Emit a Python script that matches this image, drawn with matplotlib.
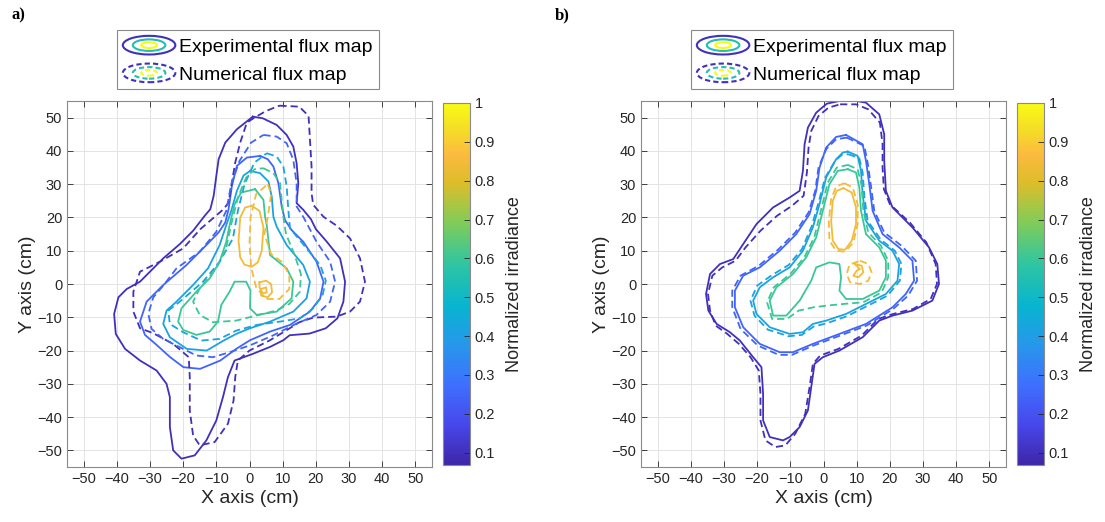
import numpy as np
import matplotlib.pyplot as plt
from matplotlib.colors import LinearSegmentedColormap, Normalize
from matplotlib.patches import Ellipse
from matplotlib.legend_handler import HandlerBase
from matplotlib.lines import Line2D
import matplotlib.cm as cm

plt.rcParams['font.family'] = ['Liberation Sans', 'DejaVu Sans']

# contour levels (normalized irradiance) drawn in each panel
levels = [0.1, 0.25, 0.42, 0.6, 0.85]
cbar_ticks = [0.1, 0.2, 0.3, 0.4, 0.5, 0.6, 0.7, 0.8, 0.9, 1.0]
cbar_labels = ['0.1', '0.2', '0.3', '0.4', '0.5', '0.6', '0.7', '0.8', '0.9', '1']
axis_ticks = [-50, -40, -30, -20, -10, 0, 10, 20, 30, 40, 50]

# ---- panel a) experimental (solid) contours, (x, y) in cm ----
a_exp_010 = [(1, 50.3), (4, 49.8), (8.2, 47.8), (11.2, 44.8), (13.2, 41.3), (14.2, 36.3), (14.7, 30.3),
             (14.2, 24.3), (16.2, 22.3), (18.5, 19.5), (20, 16.5), (23.3, 12.7), (27.3, 7.7), (28.8, 0.7),
             (28.3, -5.3), (26.5, -10.3), (23, -13.3), (18.1, -14.9), (12.1, -15.4), (10.2, -16.9),
             (6.2, -18.9), (1, -21), (-4.5, -23), (-6.5, -28), (-8, -34), (-10, -41), (-13, -47),
             (-16.5, -51.5), (-20.5, -52.5), (-23, -50), (-24, -43), (-24, -34), (-25, -30), (-28, -26),
             (-33, -23), (-37.5, -19.5), (-40.3, -15), (-40.8, -9), (-39.5, -4), (-37, -1.5), (-33, 0.7),
             (-26, 7.7), (-21, 12), (-17, 16), (-13.5, 20.5), (-11.8, 22.5), (-10.8, 26.5), (-10, 32.5),
             (-9.3, 37.5), (-7.3, 42.5), (-3.8, 46.5), (1, 50.3)]
a_exp_025 = [(3.2, 38.5), (5.5, 37.5), (7.2, 35.3), (8.7, 30.3), (9.7, 23.3), (10.7, 19.2), (12.7, 16.2),
             (16.2, 12.7), (20.2, 6.7), (22.3, 0.7), (21.3, -4.3), (18.2, -8.3), (12.2, -12.3), (6.2, -14.3),
             (0.15, -16.9), (-4, -19.5), (-8.8, -23), (-14.9, -25.5), (-19.9, -25), (-23.9, -22),
             (-28, -18.3), (-31.5, -15.3), (-33, -11.3), (-31, -5.3), (-26, -0.3), (-19, 5.7), (-13, 11.7),
             (-9.3, 15.5), (-7.3, 18.5), (-6.3, 22.5), (-5.3, 29.5), (-3.8, 35.5), (-0.8, 38), (3.2, 38.5)]
a_exp_042 = [(0.2, 34), (3.2, 33.3), (5.7, 30.8), (6.7, 26.3), (7.2, 20.2), (8.2, 17.2), (11.2, 11.7),
             (16.2, 5.7), (18.2, 0.7), (17.2, -4.3), (13.2, -8.3), (6.2, -11.3), (0.15, -13.3), (-4, -15),
             (-7.8, -17), (-12.9, -20), (-18.9, -19.5), (-24, -16), (-26, -12), (-25, -8), (-22, -5.3),
             (-17, -0.3), (-12.5, 4.7), (-9, 11.7), (-7, 17.7), (-5.5, 22), (-3.8, 28), (-1.8, 32.6), (0.2, 34)]
a_exp_060 = [(1.7, 28.5), (4.2, 25.3), (4.7, 20.2), (5.2, 17.7), (6.2, 8.7), (11.2, 4.7), (13.2, 0.7),
             (12.7, -4.3), (8.2, -8.3), (2.2, -9.3), (0.15, -7.3), (0.3, -2), (-1, 0.7), (-4.5, 0.7),
             (-6, -2.3), (-8.5, -6.3), (-9.5, -11.3), (-12, -14.3), (-16, -15.3), (-20, -13.8),
             (-21.5, -11.3), (-20.5, -7.3), (-16, -2.3), (-12, 1.7), (-9, 6.7), (-7, 12.7), (-6, 17.7),
             (-4.5, 24), (-2.5, 27.5), (1.7, 28.5)]
a_exp_085 = [(0.7, 23.5), (3, 22), (4.2, 17), (3.7, 10), (2.5, 6.5), (0.7, 5.2), (-1.5, 5.8), (-2.8, 8),
             (-3.3, 13), (-2.8, 20), (-1.3, 23), (0.7, 23.5)]
a_exp_085b = [(3, 0.5), (5, 1), (6.5, 0), (6.8, -2.5), (5.5, -4), (3.5, -3.5), (3.5, -1.5), (5, -1),
              (5.2, -2.5), (4, -2.8), (3, -1), (3, 0.5)]

# ---- panel a) numerical (dashed) contours ----
a_num_010 = [(9, 53.6), (15, 53.3), (17.8, 50.5), (18.3, 42), (18.7, 35.3), (18.7, 27.3), (19.2, 23.8),
             (22.3, 20.2), (26.3, 17.5), (30.3, 13.7), (33.3, 7.7), (34.8, 0.7), (33.3, -5.3), (30.3, -8.3),
             (26.3, -9.8), (19.2, -10.1), (15, -11.5), (11, -14), (6, -17), (0, -20), (-3.5, -23),
             (-4.3, -28), (-4.8, -35), (-6.5, -42), (-10.5, -47.5), (-15, -48.5), (-17, -45.5), (-18, -38),
             (-18, -28), (-18.3, -22), (-23, -18), (-29, -14.8), (-33, -13.3), (-35, -8.3), (-35, -2.3),
             (-33, 3.7), (-27, 6.7), (-20, 10.7), (-14.8, 16.5), (-11.3, 19.5), (-7.8, 22.5), (-6.3, 24.5),
             (-5.3, 30.5), (-4.3, 36.5), (-2.8, 42.5), (-0.8, 48.5), (1.5, 50), (5, 52), (9, 53.6)]
a_num_025 = [(4.2, 44.8), (8.2, 44.3), (11.2, 42.3), (13.2, 37.3), (14.2, 30.3), (14.2, 23.3), (16.2, 20.2),
             (20.2, 12.7), (24.3, 6.7), (25.8, 0.7), (24.3, -5.3), (20.2, -9.3), (14, -12), (7, -15.5),
             (0, -18.5), (-6, -20.5), (-11, -22), (-16, -21.5), (-21, -19), (-26, -16.5), (-29.5, -13.5),
             (-30.5, -9), (-29, -4), (-26, -0.5), (-22, 4.7), (-15, 9.7), (-10, 15.7), (-7, 22), (-5.5, 30),
             (-3, 37), (0.5, 42.5), (4.2, 44.8)]
a_num_042 = [(5.2, 39.3), (8.2, 38.3), (10.2, 35.3), (11.2, 29.3), (11.7, 22.3), (12.2, 16.7), (17.2, 10.7),
             (21.3, 5.7), (23, 1), (22, -3.5), (19, -7.5), (15.2, -10.3), (9.2, -11.3), (2.2, -12.3),
             (-4, -14), (-9, -16.5), (-14.5, -17), (-20, -14.5), (-24, -12), (-24.5, -8), (-21, -5.3),
             (-14, 0.7), (-9, 6.7), (-5, 13.7), (-3.5, 22), (-1.5, 30), (1.5, 36.5), (5.2, 39.3)]
a_num_060 = [(4.2, 34.8), (7.2, 33.3), (9.2, 30.3), (9.7, 25.3), (10.2, 20.2), (11, 15), (13.5, 9),
             (15.5, 3), (15.2, -2.3), (12, -6), (8, -8), (2, -9.5), (-4, -11), (-11, -11.5), (-15, -9.3),
             (-17, -5.3), (-15, -1.3), (-10, 4.7), (-7, 11), (-5.5, 18), (-3.5, 26), (-1, 32), (1.5, 34.5),
             (4.2, 34.8)]
a_num_085 = [(5.5, 30), (6.5, 27), (5.5, 20), (4.5, 15), (6.5, 9), (10, 6.5), (12, 2.5), (12, -1.5),
             (9, -4.5), (5, -4.5), (2, -1), (0.5, 5), (0, 12), (0.3, 20), (2, 27), (5.5, 30)]

# ---- panel b) experimental (solid) contours ----
b_exp_010 = [(4.8, 55), (8.8, 55.2), (12.8, 54.5), (16.8, 51), (18.3, 45), (18.3, 37), (18.8, 28),
             (20.8, 23), (26.8, 17), (31.8, 11), (34.3, 6), (34.8, 0), (32.8, -5), (26.8, -8),
             (20.8, -9.5), (16.8, -11), (11.8, -16), (4.8, -20), (-0.2, -22), (-2.7, -24), (-3.7, -31),
             (-4.7, -38), (-7.2, -43), (-10.2, -46), (-12.2, -47), (-16.2, -46), (-18.2, -41), (-18.2, -33),
             (-18.7, -25), (-21.2, -22), (-25.2, -17), (-28.2, -14.5), (-32.2, -12), (-34.7, -8),
             (-35.4, -3), (-34.2, 3), (-31.2, 6), (-27.2, 7.5), (-24.2, 12), (-20.2, 18), (-15.2, 23),
             (-10.2, 26), (-7.2, 28), (-6.2, 34), (-5.7, 42), (-4.7, 47), (-2.2, 51.5), (1, 54.2), (4.8, 55)]
b_exp_025 = [(6.8, 44.8), (11.8, 42), (12.8, 37), (13.8, 30), (14.8, 22), (17.8, 15), (22.8, 11), (26.8, 7),
             (27.3, 1), (24.8, -3), (20.8, -7), (12.8, -12), (4.8, -15), (-3.2, -18), (-9.2, -20.5),
             (-13.2, -20.5), (-19.2, -18), (-24.2, -13), (-26.7, -7), (-26.7, -2), (-24.2, 2.5), (-19.2, 5),
             (-13.2, 10), (-8.2, 15), (-4.2, 21), (-2.2, 28), (-1.2, 35), (0.8, 41), (3.8, 44.2), (6.8, 44.8)]
b_exp_042 = [(7.3, 39.8), (10.3, 38.5), (11.3, 34), (11.8, 27), (12.8, 19), (16.8, 13), (20.8, 10),
             (22.8, 6), (22.3, 1), (18.8, -3), (12.8, -6), (6.8, -9), (0.8, -11), (-3.2, -12), (-6.2, -14.5),
             (-10.2, -15), (-16.2, -13), (-20.2, -9), (-21.2, -5), (-19.2, -1), (-15.2, 2), (-10.2, 5),
             (-6.2, 10), (-3.2, 17), (-1.2, 24), (0.8, 32), (3.8, 37.5), (5.8, 39.5), (7.3, 39.8)]
b_exp_060 = [(7.3, 34.5), (9.8, 33.5), (10.8, 29), (11.3, 22), (12.8, 15), (16.8, 11), (18.8, 7), (18.8, 2),
             (16.8, -2), (11.8, -4.5), (6.8, -4.5), (4.8, -2), (5.3, 2), (4.8, 6), (1.8, 6.5), (-2.2, 5),
             (-3.7, 1), (-7.2, -5), (-11.2, -9.5), (-15.2, -9.5), (-16.2, -5), (-14.2, -1), (-9.2, 3),
             (-5.2, 8), (-2.2, 14), (-0.2, 22), (1.8, 30), (4.3, 34), (7.3, 34.5)]
b_exp_085 = [(6, 28.8), (8.5, 27.5), (9.8, 23), (9.8, 18), (8.5, 13), (6.5, 10.3), (4.5, 10.5), (2.8, 13),
             (2.3, 19), (2.8, 25), (4, 28), (6, 28.8)]
b_exp_085b = [(9.5, 6), (11.5, 5.5), (12, 3.5), (10.5, 2), (9, 2.5), (10, 4), (11, 4.5), (9.5, 6)]

# ---- panel b) numerical (dashed) contours ----
b_num_010 = [(5, 54), (9.8, 54), (13.5, 52.5), (17, 48.5), (17.8, 42), (17.8, 35), (18.2, 28.5), (20, 24),
             (26, 18.5), (31, 12.5), (33.8, 6), (34.2, 0), (32.3, -4.5), (27, -7.5), (21, -9),
             (16.5, -10.5), (11.5, -15.5), (4.5, -19.5), (-1, -21.5), (-3.2, -24), (-4.2, -31),
             (-5.5, -39), (-8.5, -45), (-11.5, -48.5), (-14.5, -49), (-17.5, -47), (-19, -41), (-19, -33),
             (-19.5, -26), (-22, -22), (-25.5, -18), (-29, -15), (-32.5, -12.5), (-34.2, -8), (-34.8, -3),
             (-33.5, 2.5), (-30.5, 5), (-26.5, 7), (-23.5, 11), (-19, 16), (-14, 20.5), (-9.5, 23.5),
             (-6, 26.5), (-5, 33.5), (-4.5, 41), (-3.7, 46), (-1.5, 50.5), (1.5, 53), (5, 54)]
b_num_025 = [(7, 44), (12.3, 41.5), (13.3, 36.5), (14.3, 29.5), (15.3, 22), (18.3, 15.5), (23.5, 11.5),
             (27.8, 7), (28.2, 1), (25.5, -3.5), (21, -7.5), (13, -12.5), (5, -15.5), (-3, -18.5),
             (-9.5, -21.3), (-13.5, -21.3), (-19.8, -18.5), (-25, -13.5), (-27.5, -7), (-27.5, -2),
             (-25, 2.5), (-19.5, 5.5), (-13.5, 10.5), (-8.5, 15.5), (-4.5, 21.5), (-2.5, 28), (-1.5, 35),
             (0.8, 40.5), (3.8, 43.5), (7, 44)]
b_num_042 = [(7.5, 39), (10.8, 37.8), (11.8, 33.5), (12.3, 26.5), (13.3, 19), (17.3, 13.3), (21.5, 10),
             (23.5, 6), (23, 1), (19.3, -3.5), (13, -6.7), (7, -9.7), (1, -11.8), (-3, -12.8),
             (-6.5, -15.3), (-10.5, -15.7), (-16.8, -13.7), (-20.8, -9.5), (-22, -5), (-20, -0.5),
             (-15.5, 2.7), (-10.5, 5.7), (-6.5, 10.5), (-3.5, 17.5), (-1.5, 24.5), (0.5, 32), (3.5, 37),
             (5.5, 38.8), (7.5, 39)]
b_num_060 = [(7.3, 35.8), (10.3, 34.5), (11.5, 29.5), (12, 22), (13.5, 15.5), (17.3, 11.5), (19.5, 7),
             (19.5, 2), (17.5, -2.5), (12, -5.5), (6, -6), (1, -6.5), (-3, -7), (-7.5, -8), (-11, -10.5),
             (-15.5, -10.5), (-17, -5.5), (-15, -1), (-10, 3), (-5.8, 8), (-2.8, 14), (-0.8, 22), (1.3, 30.5),
             (4, 35), (7.3, 35.8)]
b_num_085 = [(6.3, 30.3), (8.8, 29), (10.3, 24), (10.3, 18), (9, 12.5), (6.5, 9.7), (3.8, 10), (1.8, 13),
             (1.6, 19), (2.3, 25.5), (3.8, 29.3), (6.3, 30.3)]
b_num_085b = [(11, 7), (13.5, 6), (14.5, 3.5), (13.5, 1), (11, 0), (8, 0.5), (7, 3), (7.8, 5.8), (11, 7)]

a_exp = [(0.1, [a_exp_010]), (0.25, [a_exp_025]), (0.42, [a_exp_042]), (0.6, [a_exp_060]),
         (0.85, [a_exp_085, a_exp_085b])]
a_num = [(0.1, [a_num_010]), (0.25, [a_num_025]), (0.42, [a_num_042]), (0.6, [a_num_060]),
         (0.85, [a_num_085])]
b_exp = [(0.1, [b_exp_010]), (0.25, [b_exp_025]), (0.42, [b_exp_042]), (0.6, [b_exp_060]),
         (0.85, [b_exp_085, b_exp_085b])]
b_num = [(0.1, [b_num_010]), (0.25, [b_num_025]), (0.42, [b_num_042]), (0.6, [b_num_060]),
         (0.85, [b_num_085, b_num_085b])]

# parula-like colormap
parula = LinearSegmentedColormap.from_list('parula', [
    (0.00, (0.2422, 0.1504, 0.6603)),
    (0.11, (0.2803, 0.2782, 0.9221)),
    (0.22, (0.2440, 0.4358, 0.9988)),
    (0.33, (0.1540, 0.5902, 0.9218)),
    (0.44, (0.0297, 0.7082, 0.8163)),
    (0.56, (0.1938, 0.7758, 0.6251)),
    (0.67, (0.5044, 0.7993, 0.3480)),
    (0.78, (0.8634, 0.7406, 0.1596)),
    (0.86, (0.9900, 0.7300, 0.2500)),
    (0.93, (0.9600, 0.8700, 0.1500)),
    (1.00, (0.9769, 0.9839, 0.0805))])
norm = Normalize(0.068, 1.0)

W, H = 1105, 522
fig = plt.figure(figsize=(W / 100, H / 100), dpi=100)


def fx(px):
    return px / W


def fy(py):
    return 1 - py / H


class EllipseHandler(HandlerBase):
    def __init__(self, ls):
        super().__init__()
        self.ls = ls

    def create_artists(self, legend, orig_handle, xdescent, ydescent, width, height, fontsize, trans):
        cx = width / 2 - xdescent
        cy = height / 2 - ydescent
        arts = []
        for frac, lev in zip([1.0, 0.62, 0.3], [0.1, 0.55, 1.0]):
            e = Ellipse((cx, cy), width * frac, height * frac, fill=False,
                        edgecolor=parula(norm(lev)), lw=1.5, linestyle=self.ls, transform=trans)
            arts.append(e)
        return arts


def draw_panel(ax_left, exp_set, num_set, tag, tag_x):
    ax = fig.add_axes([fx(ax_left), fy(467), fx(365), 366 / H])
    for lev, curves in exp_set:
        for pts in curves:
            xy = np.array(pts)
            ax.plot(xy[:, 0], xy[:, 1], color=parula(norm(lev)), lw=1.3)
    for lev, curves in num_set:
        for pts in curves:
            xy = np.array(pts)
            ax.plot(xy[:, 0], xy[:, 1], color=parula(norm(lev)), lw=1.3, ls=(0, (4, 2.2)))
    ax.set_xlim(-55, 55)
    ax.set_ylim(-55, 55)
    ax.set_xticks(axis_ticks)
    ax.set_yticks(axis_ticks)
    ax.grid(True, color='#e3e3e3', lw=0.7)
    ax.set_axisbelow(True)
    ax.tick_params(direction='in', top=True, right=True, length=4, width=0.6,
                   labelsize=10.5, colors='#262626')
    for s in ax.spines.values():
        s.set_edgecolor('#8a8a8a')
        s.set_linewidth(0.8)
    ax.set_xlabel('X axis (cm)', fontsize=14, color='#262626', labelpad=3)
    ax.set_ylabel('Y axis (cm)', fontsize=14, color='#262626', labelpad=1)

    h_exp = Line2D([], [])
    h_num = Line2D([], [])
    ax.legend([h_exp, h_num], ['Experimental flux map', 'Numerical flux map'],
              handler_map={h_exp: EllipseHandler('-'), h_num: EllipseHandler((0, (2.5, 1.5)))},
              loc='upper left', bbox_to_anchor=(fx(ax_left + 50), fy(30)),
              bbox_transform=fig.transFigure, borderaxespad=0, fontsize=14,
              handlelength=2.7, handleheight=1.1, handletextpad=0.2, borderpad=0.3,
              labelspacing=0.4, fancybox=False, framealpha=1, edgecolor='#8a8a8a')
    ax.get_legend().get_frame().set_linewidth(0.8)

    cax = fig.add_axes([fx(ax_left + 376), fy(465), fx(27), 362 / H])
    cb = fig.colorbar(cm.ScalarMappable(norm=norm, cmap=parula), cax=cax)
    cb.set_ticks(cbar_ticks)
    cb.set_ticklabels(cbar_labels)
    cb.ax.tick_params(direction='in', length=4, width=0.6, labelsize=10.5, colors='#262626')
    cb.outline.set_edgecolor('#8a8a8a')
    cb.outline.set_linewidth(0.8)
    cb.set_label('Normalized irradiance', fontsize=13, color='#262626', labelpad=8)

    fig.text(fx(tag_x), fy(15), tag, fontfamily='Liberation Serif', fontweight='bold',
             fontsize=12, va='center', ha='left')


draw_panel(67, a_exp, a_num, 'a)', 12)
draw_panel(641, b_exp, b_num, 'b)', 555)

fig.savefig('out.png', dpi=100)
